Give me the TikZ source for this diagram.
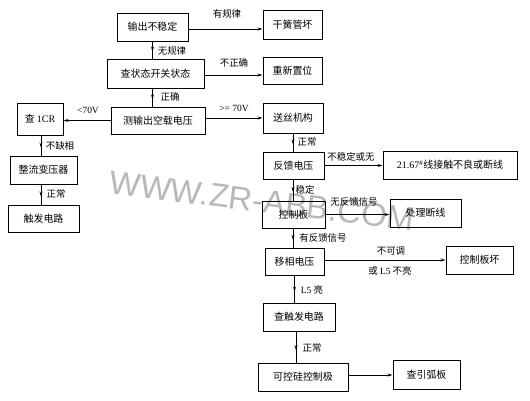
\documentclass[tikz,border=0pt]{standalone}
\usepackage{fontspec}
\setmainfont{Liberation Serif}
\newfontfamily\cjk{Noto Sans CJK SC}
\newfontfamily\wmfont{Liberation Sans}
\usetikzlibrary{arrows.meta,decorations.markings}
\tikzset{
  box/.style={draw,line width=1pt,inner sep=0pt,font=\fontsize{10}{12}\selectfont\cjk},
  lbl/.style={inner sep=0pt,font=\fontsize{9.5}{11}\selectfont\cjk},
  harr/.style={line width=0.8pt,-{Stealth[length=5pt,width=3pt]}},
  varr/.style={line width=0.8pt,postaction={decorate},
    decoration={markings,mark=at position 0.6 with {\arrow{Stealth[length=5pt,width=3pt]}}}}
}
\begin{document}
\begin{tikzpicture}[x=1bp,y=-1bp]
\useasboundingbox (0,0) rectangle (530,400);
\node[rotate=-7,text=black!28,font=\fontsize{33}{36}\selectfont\wmfont] (wm) at (262,201) {WWW.ZR-ABB.COM};
% boxes
\node[box,minimum width=71bp,minimum height=28bp] (n1) at (152.5,27) {输出不稳定};
\node[box,minimum width=59bp,minimum height=29bp] (n2) at (292.5,24.5) {干簧管坏};
\node[box,minimum width=97bp,minimum height=29bp] (n3) at (155.5,73.5) {查状态开关状态};
\node[box,minimum width=59bp,minimum height=27bp] (n4) at (292.5,70.5) {重新置位};
\node[box,minimum width=94bp,minimum height=27bp] (n5) at (158,120.5) {测输出空载电压};
\node[box,minimum width=46bp,minimum height=32bp] (n6) at (40,119) {查 {\rmfamily 1CR}};
\node[box,minimum width=60bp,minimum height=30bp] (n7) at (293,118) {送丝机构};
\node[box,minimum width=67bp,minimum height=28bp] (n8) at (43.5,170) {整流变压器};
\node[box,minimum width=71bp,minimum height=27bp] (n9) at (43.5,218.5) {触发电路};
\node[box,minimum width=61bp,minimum height=27bp] (n10) at (293.5,165.5) {反馈电压};
\node[box,minimum width=134bp,minimum height=28bp] (n11) at (450,165) {{\rmfamily 21.67\textsuperscript{\#}}线接触不良或断线};
\node[box,minimum width=63bp,minimum height=27bp] (n12) at (293.5,214.5) {控制板};
\node[box,minimum width=71bp,minimum height=28bp] (n13) at (425.5,213) {处理断线};
\node[box,minimum width=59bp,minimum height=27bp] (n14) at (294.5,261.5) {移相电压};
\node[box,minimum width=67bp,minimum height=28bp] (n15) at (479.5,260) {控制板坏};
\node[box,minimum width=72bp,minimum height=28bp] (n16) at (299,317) {查触发电路};
\node[box,minimum width=90bp,minimum height=28bp] (n17) at (303,377) {可控硅控制极};
\node[box,minimum width=67bp,minimum height=29bp] (n18) at (426.5,374.5) {查引弧板};
% vertical connectors
\draw[varr] (n1.south) -- (n1.south |- n3.north);
\draw[varr] (n1.south |- n3.south) -- (n1.south |- n5.north);
\draw[varr] ([xshift=1bp]n6.south) -- ([xshift=1bp]n6.south |- n8.north);
\draw[varr] ([xshift=1bp]n6.south |- n8.south) -- ([xshift=1bp]n6.south |- n9.north);
\draw[varr] (n7.south) -- (n7.south |- n10.north);
\draw[varr] (n7.south |- n10.south) -- (n7.south |- n12.north);
\draw[varr] (n7.south |- n12.south) -- (n7.south |- n14.north);
\draw[varr] (n14.south) -- (n14.south |- n16.north);
\draw[varr] ([xshift=-3bp]n16.south) -- ([xshift=-3bp]n16.south |- n17.north);
% horizontal connectors
\draw[harr] ([yshift=-2bp]n1.east) -- ([yshift=-2bp]n1.east -| n2.west);
\draw[harr] ([yshift=-1.5bp]n3.east) -- ([yshift=-1.5bp]n3.east -| n4.west);
\draw[harr] ([yshift=2.5bp]n5.east) -- ([yshift=2.5bp]n5.east -| n7.west);
\draw[harr] (n5.west) -- (n5.west -| n6.east);
\draw[harr] (n10.east) -- (n10.east -| n11.west);
\draw[harr] (n12.east) -- (n12.east -| n13.west);
\draw[harr] ([yshift=1.5bp]n14.east) -- ([yshift=1.5bp]n14.east -| n15.west);
\draw[harr] ([yshift=2bp]n17.east) -- ([yshift=2bp]n17.east -| n18.west);
% labels
\node[lbl] (l1) at (227,14) {有规律};
\node[lbl] (l2) at (234,63) {不正确};
\node[lbl] (l3) at (234,108.5) {{\rmfamily >= 70V}};
\node[lbl] (l4) at (172,51) {无规律};
\node[lbl] (l5) at (170,97) {正确};
\node[lbl] (l6) at (88,110) {{\rmfamily <70V}};
\node[lbl] (l7) at (60,146) {不缺相};
\node[lbl] (l8) at (56,194) {正常};
\node[lbl] (l9) at (307,142) {正常};
\node[lbl] (l10) at (351,157) {不稳定或无};
\node[lbl] (l11) at (305,190) {稳定};
\node[lbl] (l12) at (354,202) {无反馈信号};
\node[lbl] (l13) at (323,238) {有反馈信号};
\node[lbl] (l14) at (391,251) {不可调};
\node[lbl] (l15) at (390,271) {或 {\rmfamily L5} 不亮};
\node[lbl] (l16) at (312,290) {{\rmfamily L5} 亮};
\node[lbl] (l17) at (312,348) {正常};
\end{tikzpicture}
\end{document}
